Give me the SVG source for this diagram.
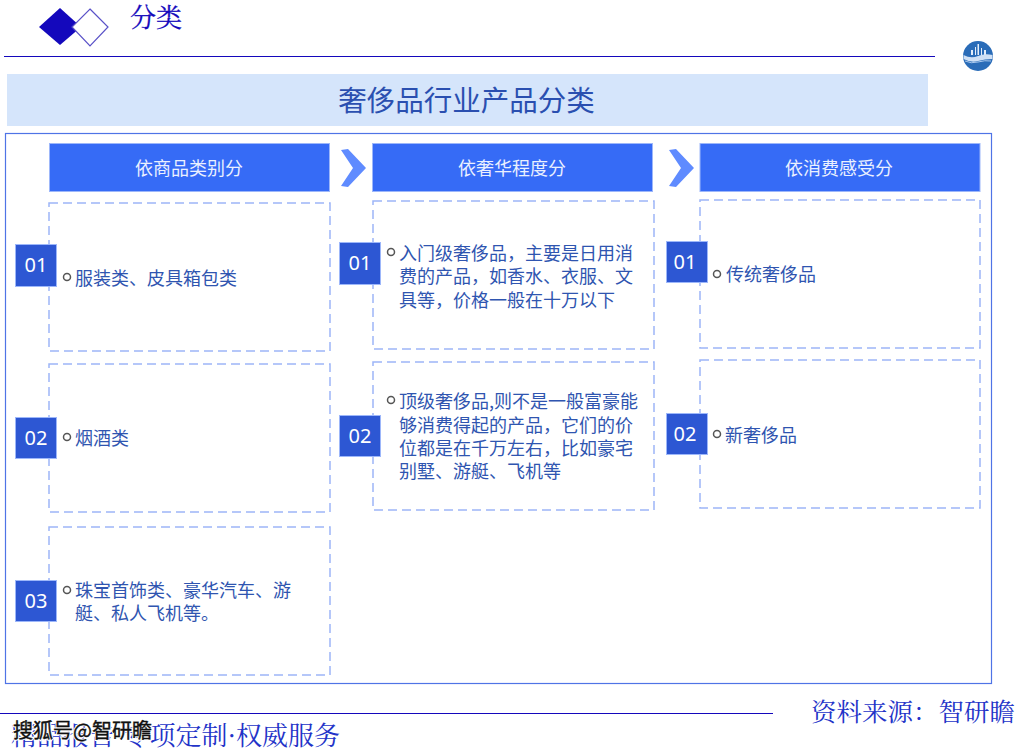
<svg xmlns="http://www.w3.org/2000/svg" width="1017" height="752" viewBox="0 0 1017 752">
<defs><style>
text{font-family:"Noto Sans CJK SC","Noto Sans",sans-serif}
.s{font-family:"Noto Serif CJK SC","Noto Sans CJK SC",serif;fill:#1408bc}
.head{fill:#366bf6;stroke:#9db7fa;stroke-width:1}
.ht{fill:#eaf0ff;font-size:18px;text-anchor:middle}
.box{fill:#fff;stroke:#9db5f8;stroke-width:1.5;stroke-dasharray:9 5}
.num{fill:#2d57d3;stroke:#9db7fa;stroke-width:1}
.nt{fill:#fff;font-size:20px;text-anchor:middle;font-family:"Noto Sans",sans-serif}
.b{font-size:18px;fill:#2f55b0}
.dot{fill:#fff;stroke:#555;stroke-width:1.5}
.chev{fill:#5f8bff}
</style></defs>
<g id="title-mark">
<polygon points="60,8 81,27 60,45 39,27" fill="#1408bc"/>
<polygon points="90,9 108,27 90,46 72,27" fill="#fff" stroke="#5a52c8" stroke-width="1.2"/>
<text class="s" x="130" y="27" font-size="26" stroke="#1408bc" stroke-width="0.300">分类</text>
</g>
<g id="rules">
<line x1="4" y1="56.500" x2="935" y2="56.500" stroke="#1408bc" stroke-width="1"/>
<line x1="0" y1="713.500" x2="773" y2="713.500" stroke="#1408bc" stroke-width="1"/>
</g>
<g id="logo">
<circle cx="978" cy="56" r="15" fill="#2a6cb8"/>
<path d="M971,55V50H973V55ZM975,55V47H976V55ZM977.500,55V44H979V55ZM981,55V48H982V55ZM984,55V50H986V55Z" fill="#e4eefa"/>
<path d="M963.500,55Q971,59 978,56T992.500,55V59Q985,59 978,61T963.500,59Z" fill="#cfe0f5"/>
<path d="M965,61Q971,64 978,62T991,61" fill="none" stroke="#a8c8ee" stroke-width="1"/>
</g>
<g id="banner">
<rect x="7" y="74" width="921" height="52" fill="#d5e5fb"/>
<text x="466.500" y="111" font-size="28.500" text-anchor="middle" fill="#2a4fb0">奢侈品行业产品分类</text>
</g>
<rect id="frame" x="5.500" y="133.500" width="986" height="550" fill="#fff" stroke="#4f74e6" stroke-width="1.200"/>
<g id="connectors">
<path class="chev" d="M341,150L348,149L366,168L348,187L341,186L353,168Z"/>
<path class="chev" d="M669,150L676,149L694,168L676,187L669,186L681,168Z"/>
</g>
<g id="col1-head"><rect class="head" x="49.500" y="143.500" width="280" height="48"/><text class="ht" x="189" y="175">依商品类别分</text></g>
<g id="col2-head"><rect class="head" x="372.500" y="143.500" width="280" height="48"/><text class="ht" x="512" y="175">依奢华程度分</text></g>
<g id="col3-head"><rect class="head" x="700" y="143.500" width="280" height="48"/><text class="ht" x="839" y="175">依消费感受分</text></g>

<g id="c1-01"><rect class="box" x="49" y="203" width="281" height="148"/><rect class="num" x="15.500" y="244.500" width="41" height="42"/><text class="nt" x="36" y="272">01</text><circle class="dot" cx="67" cy="277" r="3.500"/><text class="b" x="75" y="285">服装类、皮具箱包类</text></g>
<g id="c1-02"><rect class="box" x="49" y="364" width="281" height="148"/><rect class="num" x="15.500" y="417.500" width="41" height="41"/><text class="nt" x="36" y="445">02</text><circle class="dot" cx="67" cy="437" r="3.500"/><text class="b" x="75" y="445">烟酒类</text></g>
<g id="c1-03"><rect class="box" x="49" y="527" width="281" height="148"/><rect class="num" x="15.500" y="580.500" width="41" height="41"/><text class="nt" x="36" y="608">03</text><circle class="dot" cx="67" cy="590" r="3.500"/><text class="b" x="75" y="597">珠宝首饰类、豪华汽车、游</text><text class="b" x="75" y="620">艇、私人飞机等。</text></g>

<g id="c2-01"><rect class="box" x="373" y="201" width="281" height="148"/><rect class="num" x="339.500" y="242.500" width="41" height="42"/><text class="nt" x="360" y="270">01</text><circle class="dot" cx="391" cy="252" r="3.500"/><text class="b" x="399" y="260">入门级奢侈品，主要是日用消</text><text class="b" x="399" y="283">费的产品，如香水、衣服、文</text><text class="b" x="399" y="307">具等，价格一般在十万以下</text></g>
<g id="c2-02"><rect class="box" x="373" y="362" width="281" height="148"/><rect class="num" x="339.500" y="415.500" width="41" height="41"/><text class="nt" x="360" y="443">02</text><circle class="dot" cx="391" cy="400" r="3.500"/><text class="b" x="399" y="408">顶级奢侈品,则不是一般富豪能</text><text class="b" x="399" y="432">够消费得起的产品，它们的价</text><text class="b" x="399" y="455">位都是在千万左右，比如豪宅</text><text class="b" x="399" y="478">别墅、游艇、飞机等</text></g>

<g id="c3-01"><rect class="box" x="700" y="200" width="280" height="148"/><rect class="num" x="666.500" y="241.500" width="41" height="41"/><text class="nt" x="685" y="269">01</text><circle class="dot" cx="717" cy="274" r="3.500"/><text class="b" x="726" y="281">传统奢侈品</text></g>
<g id="c3-02"><rect class="box" x="700" y="360" width="280" height="148"/><rect class="num" x="666.500" y="413.500" width="41" height="41"/><text class="nt" x="685" y="441">02</text><circle class="dot" cx="717" cy="434" r="3.500"/><text class="b" x="725" y="442">新奢侈品</text></g>

<g id="footer">
<text class="s" x="811" y="721" font-size="25.500" style="fill:#2333c8">资料来源：智研瞻</text>
<text class="s" x="11" y="745" font-size="26" style="fill:#2333c8">精品报告·专项定制·权威服务</text>
<text x="13" y="738" font-size="20" fill="#fff" stroke="#fff" stroke-width="2.500">搜狐号@智研瞻</text>
<text x="13" y="738" font-size="20" fill="#111" stroke="#111" stroke-width="0.400">搜狐号@智研瞻</text>
</g>
</svg>
